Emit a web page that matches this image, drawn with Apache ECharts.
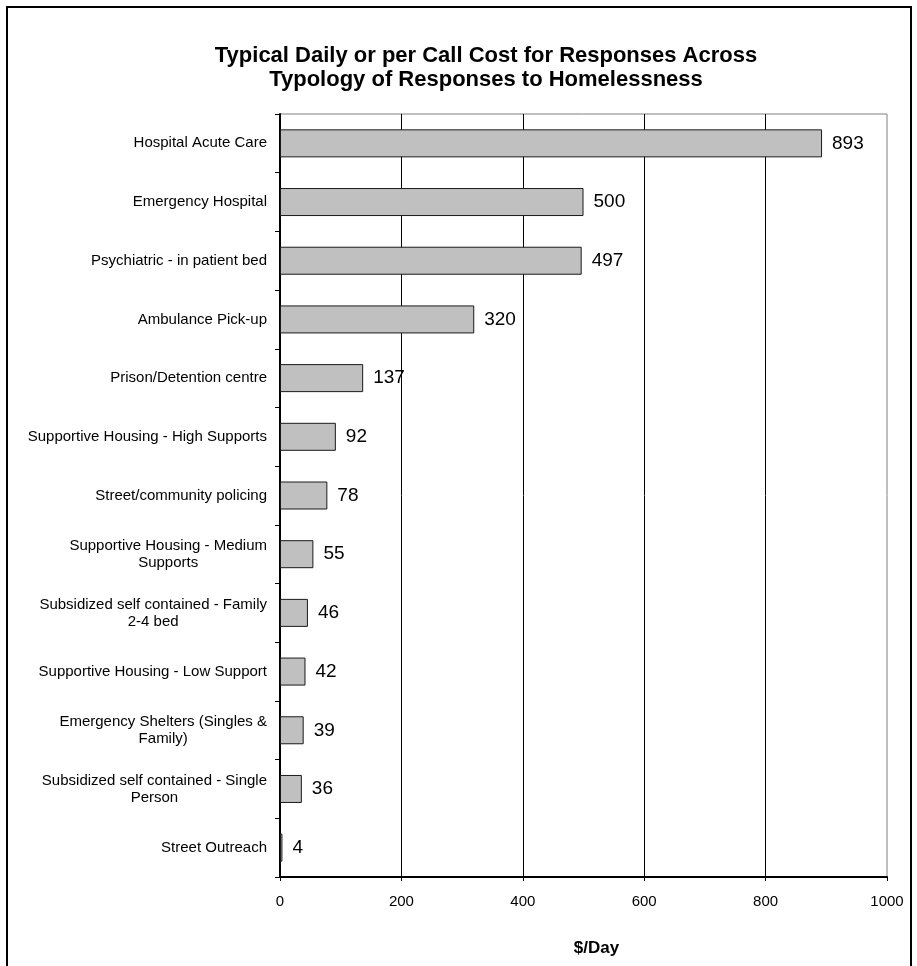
<!DOCTYPE html>
<html>
<head>
<meta charset="utf-8">
<title>Typical Daily or per Call Cost</title>
<script src="https://cdn.jsdelivr.net/npm/echarts@6/dist/echarts.min.js"></script>
<style>
  html, body { margin: 0; padding: 0; background: #fff; }
  #main { width: 917px; height: 966px; }
</style>
</head>
<body>
<div id="main"></div>
<script>
// categories top to bottom, '\n' where the original label wraps
const responses = [
  "Hospital Acute Care",
  "Emergency Hospital",
  "Psychiatric - in patient bed",
  "Ambulance Pick-up",
  "Prison/Detention centre",
  "Supportive Housing - High Supports",
  "Street/community policing",
  "Supportive Housing - Medium\nSupports",
  "Subsidized self contained - Family\n2-4 bed",
  "Supportive Housing - Low Support",
  "Emergency Shelters (Singles &\nFamily)",
  "Subsidized self contained - Single\nPerson",
  "Street Outreach"
];
const costPerDay = [893, 500, 497, 320, 137, 92, 78, 55, 46, 42, 39, 36, 4];
const xTicks = [0, 200, 400, 600, 800, 1000];

const font = "'Liberation Sans', Arial, sans-serif";

var myChart = echarts.init(document.getElementById("main"));

var option = {
  animation: false,
  backgroundColor: "#fff",
  graphic: [
    {
      // outer frame of the chart
      type: "rect",
      shape: { x: 7, y: 7, width: 904, height: 990 },
      style: { fill: "none", stroke: "#000", lineWidth: 2 },
      silent: true
    }
  ],
  title: {
    text: "Typical Daily or per Call Cost for Responses Across\nTypology of Responses to Homelessness",
    left: 481,
    top: 39,
    textAlign: "center",
    textStyle: {
      fontFamily: font,
      fontSize: 22,
      fontWeight: "bold",
      lineHeight: 24,
      color: "#000"
    }
  },
  grid: {
    left: 280,
    top: 114,
    width: 607,
    height: 763,
    show: true,
    borderColor: "#808080",
    borderWidth: 1,
    backgroundColor: "transparent"
  },
  xAxis: {
    type: "value",
    min: xTicks[0],
    max: xTicks[xTicks.length - 1],
    interval: xTicks[1] - xTicks[0],
    name: "$/Day",
    nameLocation: "middle",
    nameGap: 63,
    nameTextStyle: {
      fontFamily: font,
      fontSize: 17,
      fontWeight: "bold",
      color: "#000",
      padding: [0, 0, 0, 26]
    },
    axisLine: { show: true, lineStyle: { color: "#000", width: 2 } },
    axisTick: { show: true, length: 4, lineStyle: { color: "#000" } },
    axisLabel: {
      margin: 17,
      fontFamily: font,
      fontSize: 15,
      color: "#000",
      formatter: function (v) { return String(v); }
    },
    splitLine: {
      show: true,
      showMinLine: false,
      showMaxLine: false,
      lineStyle: { color: "#000", width: 1 }
    }
  },
  yAxis: {
    type: "category",
    data: responses,
    inverse: true,
    axisLine: { show: true, lineStyle: { color: "#000", width: 2 } },
    axisTick: { show: true, length: 5, lineStyle: { color: "#000" } },
    axisLabel: {
      margin: 13,
      align: "right",
      formatter: function (v) {
        // keep wrapped lines centred under each other
        return v.split("\n").map(function (l) { return "{c|" + l + "}"; }).join("\n");
      },
      rich: {
        c: {
          align: "center",
          fontFamily: font,
          fontSize: 15,
          lineHeight: 17,
          color: "#000"
        }
      }
    },
    splitLine: { show: false }
  },
  series: [
    {
      type: "bar",
      data: costPerDay,
      barWidth: 28,
      itemStyle: {
        color: "#c0c0c0",
        borderColor: "#1a1a1a",
        borderWidth: 1
      },
      label: {
        show: true,
        position: "right",
        distance: 10,
        fontFamily: font,
        fontSize: 19,
        color: "#000"
      }
    }
  ]
};

myChart.setOption(option);
</script>
</body>
</html>
